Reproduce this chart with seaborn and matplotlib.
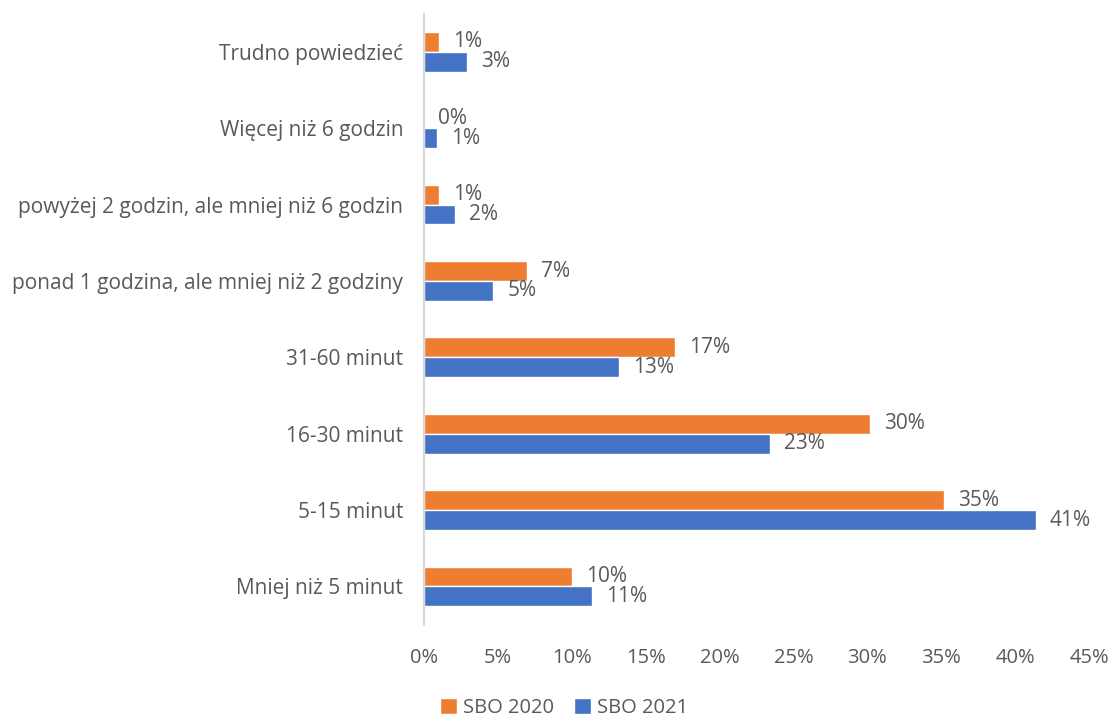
import matplotlib
matplotlib.use("Agg")
import matplotlib.pyplot as plt
import seaborn as sns
import pandas as pd
from matplotlib.patches import Patch

categories = [
    "Trudno powiedzieć",
    "Więcej niż 6 godzin",
    "powyżej 2 godzin, ale mniej niż 6 godzin",
    "ponad 1 godzina, ale mniej niż 2 godziny",
    "31-60 minut",
    "16-30 minut",
    "5-15 minut",
    "Mniej niż 5 minut",
]
series = ["SBO 2020", "SBO 2021"]
sbo_2020 = [1.0, 0.0, 1.0, 7.0, 17.0, 30.2, 35.2, 10.0]
sbo_2021 = [2.9, 0.9, 2.1, 4.7, 13.2, 23.4, 41.4, 11.4]
x_ticks = [0, 5, 10, 15, 20, 25, 30, 35, 40, 45]

colors = {"SBO 2020": "#ED7D31", "SBO 2021": "#4472C4"}
text_color = "#595959"

df = pd.DataFrame({
    "kategoria": categories * 2,
    "seria": [series[0]] * len(categories) + [series[1]] * len(categories),
    "wartosc": sbo_2020 + sbo_2021,
})

sns.set_theme(style="white")
plt.rcParams["font.family"] = ["Open Sans", "DejaVu Sans"]

fig, ax = plt.subplots(figsize=(11.17, 7.18), dpi=100)
fig.subplots_adjust(left=0.3796, right=0.975, top=0.981, bottom=0.13)

sns.barplot(data=df, x="wartosc", y="kategoria", hue="seria", order=categories,
            hue_order=series, palette=colors, orient="h", width=0.52,
            saturation=1, legend=False, ax=ax)

for container in ax.containers:
    ax.bar_label(container, labels=[f"{b.get_width():.0f}%" for b in container],
                 padding=10, fontsize=15, color=text_color)

ax.set_xlim(0, 45)
ax.set_xticks(x_ticks)
ax.set_xticklabels([f"{t}%" for t in x_ticks])
ax.set_xlabel("")
ax.set_ylabel("")
ax.tick_params(axis="both", length=0, labelcolor=text_color)
ax.tick_params(axis="x", pad=17, labelsize=14.5)
ax.tick_params(axis="y", pad=15, labelsize=15)
for side in ["top", "right", "bottom"]:
    ax.spines[side].set_visible(False)
ax.spines["left"].set_color("#D9D9D9")
ax.spines["left"].set_linewidth(1.5)
ax.grid(False)

handles = [Patch(facecolor=colors[s], label=s) for s in series]
fig.legend(handles=handles, loc="lower center", ncol=2, frameon=False,
           bbox_to_anchor=(0.505, -0.025), fontsize=14.5, handlelength=0.85,
           handleheight=0.85, handletextpad=0.3, columnspacing=1.0,
           labelcolor=text_color)

fig.savefig("out.png", dpi=100)
